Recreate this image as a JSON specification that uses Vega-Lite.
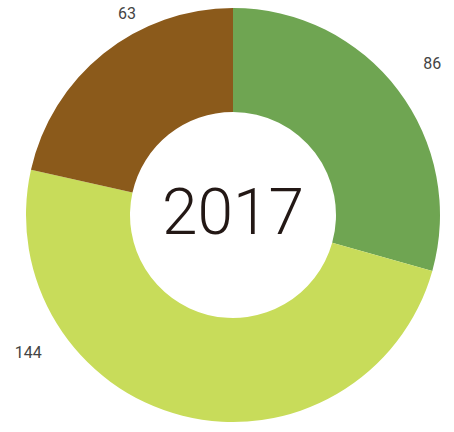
{
  "$schema": "https://vega.github.io/schema/vega-lite/v6.json",
  "width": 442,
  "height": 430,
  "autosize": {"type": "none"},
  "padding": {"left": 12, "top": 0, "right": 0, "bottom": 2},
  "background": "white",
  "view": {"stroke": null},
  "data": {"values": [
    {"segment": 1, "value": 86},
    {"segment": 2, "value": 144},
    {"segment": 3, "value": 63}
  ]},
  "encoding": {
    "theta": {"field": "value", "type": "quantitative", "stack": true},
    "order": {"field": "segment", "type": "ordinal"}
  },
  "layer": [
    {
      "mark": {"type": "arc", "outerRadius": 207, "innerRadius": 103},
      "encoding": {
        "color": {"field": "segment", "type": "nominal", "legend": null,
          "scale": {"domain": [1, 2, 3], "range": ["#6FA552", "#C8DC5A", "#8B5A1B"]}}
      }
    },
    {
      "mark": {"type": "text", "radius": 250, "fontSize": 16, "font": "Roboto", "color": "#444444"},
      "encoding": {"text": {"condition": {"test": "datum.segment == 1", "field": "value", "type": "quantitative"}, "value": ""}}
    },
    {
      "mark": {"type": "text", "radius": 247, "thetaOffset": 0.73, "fontSize": 16, "font": "Roboto", "color": "#444444"},
      "encoding": {"text": {"condition": {"test": "datum.segment == 2", "field": "value", "type": "quantitative"}, "value": ""}}
    },
    {
      "mark": {"type": "text", "radius": 227, "thetaOffset": 0.19, "fontSize": 16, "font": "Roboto", "color": "#444444"},
      "encoding": {"text": {"condition": {"test": "datum.segment == 3", "field": "value", "type": "quantitative"}, "value": ""}}
    },
    {
      "data": {"values": [{"label": "2017"}]},
      "mark": {"type": "text", "fontSize": 64, "font": "Roboto", "fontWeight": 300, "color": "#231815", "baseline": "middle"},
      "encoding": {"text": {"field": "label", "type": "nominal"}, "theta": null, "order": null}
    }
  ]
}
